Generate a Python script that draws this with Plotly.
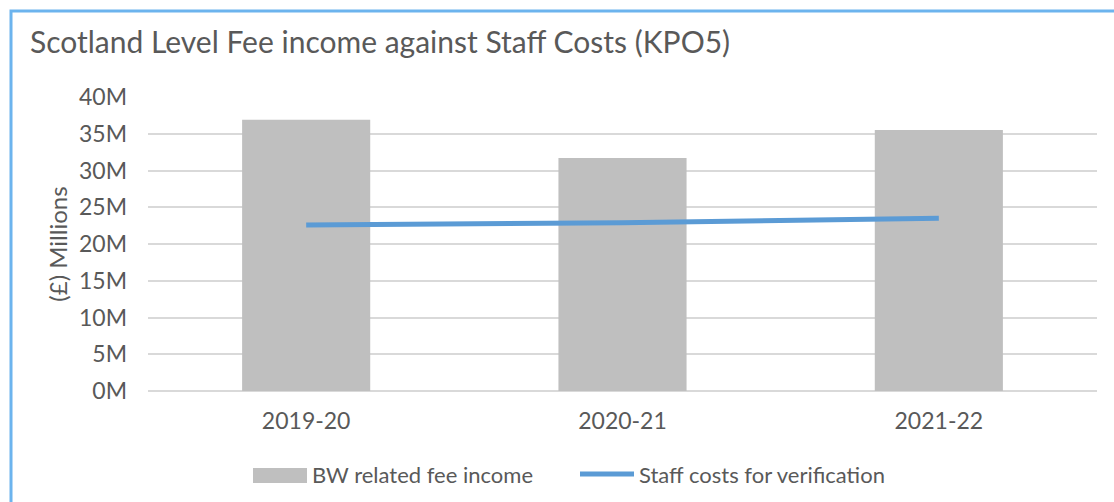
import plotly.graph_objects as go

# Financial years and values (in £)
years = ["2019-20", "2020-21", "2021-22"]
fee_income = [36.9e6, 31.7e6, 35.5e6]
staff_costs = [22.6e6, 22.9e6, 23.5e6]
tick_vals = [0, 5e6, 10e6, 15e6, 20e6, 25e6, 30e6, 35e6, 40e6]
tick_text = ["0M", "5M", "10M", "15M", "20M", "25M", "30M", "35M", "40M"]
series_names = ["BW related fee income", "Staff costs for verification"]

FONT = "Lato, Open Sans, sans-serif"
TEXT = "#595959"
BAR = "#BFBFBF"
LINE = "#5B9BD5"

fig = go.Figure()
fig.add_trace(go.Bar(
    x=years, y=fee_income, name=series_names[0],
    marker=dict(color=BAR, line=dict(width=0)),
))
fig.add_trace(go.Scatter(
    x=years, y=staff_costs, name=series_names[1],
    mode="lines", line=dict(color=LINE, width=5),
))

W, H = 1114, 502
ml, mr, mt, mb = 148, 17, 97, 111
pw, ph = W - ml - mr, H - mt - mb

def px_x(x):
    return (x - ml) / pw

def px_y(y):
    return (H - mb - y) / ph

# Legend drawn as a wide swatch and a line sample next to their labels
legend_shapes = [
    dict(type="rect", xref="paper", yref="paper",
         x0=px_x(253), x1=px_x(307), y0=px_y(483), y1=px_y(468),
         fillcolor=BAR, line=dict(width=0)),
    dict(type="line", xref="paper", yref="paper",
         x0=px_x(580), x1=px_x(634), y0=px_y(474), y1=px_y(474),
         line=dict(color=LINE, width=5)),
]
legend_labels = [
    dict(text=series_names[0], xref="paper", yref="paper", x=px_x(310), y=px_y(475),
         xanchor="left", yanchor="middle", showarrow=False,
         font=dict(size=22, color=TEXT, family=FONT)),
    dict(text=series_names[1], xref="paper", yref="paper", x=px_x(637), y=px_y(475),
         xanchor="left", yanchor="middle", showarrow=False,
         font=dict(size=22, color=TEXT, family=FONT)),
]

fig.update_layout(
    width=W, height=H,
    margin=dict(l=ml, r=mr, t=mt, b=mb),
    paper_bgcolor="white", plot_bgcolor="white",
    font=dict(family=FONT, color=TEXT, size=22),
    title=dict(text="Scotland Level Fee income against Staff Costs (KPO5)",
               x=30 / W, xanchor="left", y=1 - 42 / H, yanchor="middle",
               font=dict(size=30, color=TEXT)),
    bargap=0.595,
    showlegend=False,
    xaxis=dict(showgrid=False, showline=False, ticks="",
               tickfont=dict(size=23, color=TEXT), ticklabelstandoff=14),
    yaxis=dict(range=[0, 40e6], tickvals=tick_vals, ticktext=tick_text,
               showgrid=True, gridcolor="#D9D9D9", gridwidth=1.5, zeroline=True,
               zerolinecolor="#D9D9D9", zerolinewidth=1.5,
               tickfont=dict(size=23, color=TEXT), ticklabelstandoff=20,
               title=dict(text="(£) Millions", font=dict(size=24, color=TEXT), standoff=4)),
    shapes=[dict(type="rect", xref="paper", yref="paper",
                 x0=px_x(11), x1=px_x(1125), y0=px_y(515), y1=px_y(11),
                 line=dict(color="#6CB4EE", width=3), fillcolor="rgba(0,0,0,0)",
                 layer="below")] + legend_shapes,
    annotations=legend_labels,
)

fig.write_html("out.html")
